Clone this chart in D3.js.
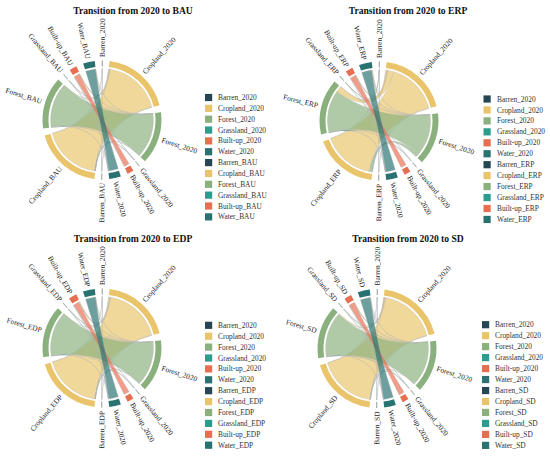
<!DOCTYPE html>
<html>
<head>
<meta charset="utf-8">
<script src="https://cdn.jsdelivr.net/npm/d3@7"></script>
<style>
  body { margin: 0; background: #fff; }
  svg { display: block; }
  text { font-family: "Liberation Serif", "Times New Roman", serif; }
</style>
</head>
<body>
<svg id="chart" width="550" height="456"></svg>
<script>
// ===== Data =====
const categories = ["Barren", "Cropland", "Forest", "Grassland", "Built-up", "Water"];
const scenarios = ["BAU", "ERP", "EDP", "SD"];

// rows = 2020 class, columns = scenario class (same order as categories)
const bauFlows = [
  [0.3, 0.05, 0, 0, 0, 0],
  [0.02, 64.8, 0.5, 0.02, 0.9, 0.4],
  [0, 0.7, 49.2, 0.03, 0.05, 0.04],
  [0, 0.05, 0.03, 0.3, 0, 0],
  [0, 0, 0, 0, 6.2, 0],
  [0, 0.3, 0.05, 0, 0.05, 10.8]
];
const erpFlows = [
  [0.3, 0.03, 0.02, 0, 0, 0],
  [0.02, 57.3, 7.0, 0.05, 0.8, 1.4],
  [0, 3.5, 46.3, 0.1, 0.05, 0.05],
  [0, 0.04, 0.06, 0.25, 0, 0],
  [0, 0, 0, 0, 6.2, 0],
  [0, 0.2, 0.1, 0, 0.05, 10.85]
];
const edpFlows = [
  [0.3, 0.05, 0, 0, 0, 0],
  [0.02, 64.3, 0.4, 0.02, 1.4, 0.5],
  [0, 0.6, 49.2, 0.03, 0.15, 0.04],
  [0, 0.05, 0.03, 0.3, 0, 0],
  [0, 0, 0, 0, 6.2, 0],
  [0, 0.25, 0.05, 0, 0.1, 10.8]
];
const sdFlows = [
  [0.3, 0.05, 0, 0, 0, 0],
  [0.02, 64.0, 1.2, 0.02, 0.8, 0.6],
  [0, 0.5, 49.4, 0.03, 0.05, 0.04],
  [0, 0.05, 0.03, 0.3, 0, 0],
  [0, 0, 0, 0, 6.2, 0],
  [0, 0.2, 0.05, 0, 0.05, 10.9]
];
const flowsByScenario = [bauFlows, erpFlows, edpFlows, sdFlows];

// ===== Styles / layout =====
const classColors = ["#264653", "#E9C46A", "#8AB17D", "#2A9D8F", "#E76F51", "#287271"];
const panels = [
  { x: 0,   y: 0,   cx: 102, cy: 120,   legX: 205,   legTextX: 218, legY: 97.5, legDy: 10.85 },
  { x: 275, y: 0,   cx: 104, cy: 121,   legX: 208.5, legTextX: 222, legY: 99,   legDy: 10.95 },
  { x: 0,   y: 228, cx: 102, cy: 120,   legX: 205,   legTextX: 218, legY: 97.3, legDy: 10.9 },
  { x: 275, y: 228, cx: 102, cy: 120.5, legX: 207,   legTextX: 220, legY: 96.7, legDy: 10.97 }
];
const gapDeg = 7;
const trackInner = 53.5, trackOuter = 59.5, ribbonR = 51.5, labelR = 63;

const svg = d3.select("#chart");

function drawPanel(p, scen, m) {
  const g = svg.append("g").attr("transform", `translate(${p.x},${p.y})`);

  // title
  g.append("text")
    .attr("x", 133).attr("y", 14)
    .attr("text-anchor", "middle")
    .style("font-size", "9.6px")
    .style("font-weight", "bold")
    .style("fill", "#111")
    .text(`Transition from 2020 to ${scen}`);

  const n = categories.length;
  const fromTot = d3.range(n).map(i => d3.sum(m[i]));
  const toTot = d3.range(n).map(j => d3.sum(m, r => r[j]));
  const total = d3.sum(fromTot) + d3.sum(toTot);
  const gap = gapDeg * Math.PI / 180;

  const ang = d3.scaleLinear()
    .domain([0, total])
    .range([0, 2 * Math.PI - 2 * n * gap]);

  // sectors: 2020 classes then scenario classes
  const sectors = [];
  let cursor = 0;
  categories.forEach((c, i) => {
    sectors.push({ name: c + "_2020", ci: i, value: fromTot[i] });
  });
  categories.forEach((c, j) => {
    sectors.push({ name: c + "_" + scen, ci: j, value: toTot[j] });
  });
  sectors.forEach(s => {
    s.startAngle = cursor;
    s.endAngle = cursor + ang(s.value);
    cursor = s.endAngle + gap;
  });

  // link positions inside sectors
  const links = [];
  const srcPos = sectors.slice(0, n).map(s => s.startAngle);
  const tgtPos = sectors.slice(n).map(s => s.startAngle);
  for (let i = 0; i < n; i++) {
    for (let j = n - 1; j >= 0; j--) {
      if (m[i][j] > 0) {
        const a = ang(m[i][j]);
        links.push({ i: i, j: j, source: { startAngle: srcPos[i], endAngle: srcPos[i] + a } });
        srcPos[i] += a;
      }
    }
  }
  for (let j = 0; j < n; j++) {
    for (let i = n - 1; i >= 0; i--) {
      if (m[i][j] > 0) {
        const a = ang(m[i][j]);
        const l = links.find(d => d.i === i && d.j === j);
        l.target = { startAngle: tgtPos[j], endAngle: tgtPos[j] + a };
        tgtPos[j] += a;
      }
    }
  }

  const chart = g.append("g").attr("transform", `translate(${p.cx},${p.cy})`);
  const ribbon = d3.ribbon().radius(ribbonR);
  const arc = d3.arc().innerRadius(trackInner).outerRadius(trackOuter);

  chart.selectAll("path.link")
    .data(links)
    .enter()
    .append("path")
    .attr("class", "link")
    .attr("d", ribbon)
    .attr("fill", d => classColors[d.i])
    .attr("fill-opacity", 0.68)
    .attr("stroke", "#b8b8b8")
    .attr("stroke-opacity", 0.7)
    .attr("stroke-width", 0.45);

  chart.selectAll("path.track")
    .data(sectors)
    .enter()
    .append("path")
    .attr("class", "track")
    .attr("d", arc)
    .attr("fill", d => classColors[d.ci])
    .attr("stroke", d => (d.endAngle - d.startAngle) < 0.02 ? "#aaa" : "none")
    .attr("stroke-width", 0.5);

  chart.selectAll("text.lab")
    .data(sectors)
    .enter()
    .append("text")
    .attr("class", "lab")
    .attr("transform", d => {
      const deg = (d.startAngle + d.endAngle) / 2 * 180 / Math.PI;
      return `rotate(${deg - 90}) translate(${labelR},0)` + (deg > 180 ? " rotate(180)" : "");
    })
    .attr("text-anchor", d => ((d.startAngle + d.endAngle) / 2 > Math.PI ? "end" : "start"))
    .attr("dy", "0.35em")
    .style("font-size", "7.4px")
    .style("fill", "#222")
    .text(d => d.name);

  // legend
  const leg = g.append("g");
  sectors.forEach((s, k) => {
    const yy = p.legY + k * p.legDy;
    leg.append("rect")
      .attr("x", p.legX).attr("y", yy - 3.6)
      .attr("width", 7.2).attr("height", 7.2)
      .attr("fill", classColors[s.ci]);
    leg.append("text")
      .attr("x", p.legTextX).attr("y", yy)
      .attr("dy", "0.35em")
      .style("font-size", "7.4px")
      .style("fill", "#333")
      .text(s.name);
  });
}

panels.forEach((p, k) => drawPanel(p, scenarios[k], flowsByScenario[k]));
</script>
</body>
</html>
